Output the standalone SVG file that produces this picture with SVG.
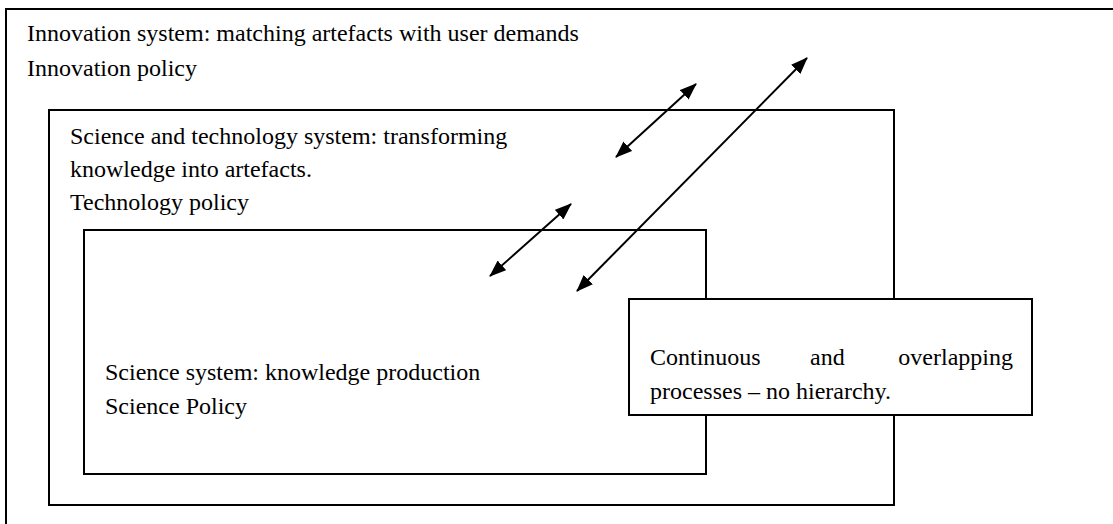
<svg xmlns="http://www.w3.org/2000/svg" width="1113" height="524" viewBox="0 0 1113 524">
<style>
  .box { fill: none; stroke: #000; stroke-width: 2; }
  .callout { fill: #fff; stroke: #000; stroke-width: 2; }
  .t { font-family: "Liberation Serif", "Times New Roman", serif; font-size: 24px; fill: #000; }
  .arr { stroke: #000; stroke-width: 2; fill: none; marker-start: url(#ah); marker-end: url(#ah); }
</style>
<defs>
  <marker id="ah" viewBox="0 0 17 13" refX="16" refY="6.5" markerWidth="17" markerHeight="13" markerUnits="userSpaceOnUse" orient="auto-start-reverse">
    <path d="M0,0 L17,6.5 L0,13 z" fill="#000"/>
  </marker>
</defs>
<rect width="1113" height="524" fill="#fff"/>
<g id="innovation-system">
  <rect class="box" x="6" y="9" width="1130" height="540"/>
  <text class="t" x="27" y="41">Innovation system: matching artefacts with user demands</text>
  <text class="t" x="27" y="76">Innovation policy</text>
</g>
<g id="st-system">
  <rect class="box" x="49" y="110" width="845" height="395"/>
  <text class="t" x="70" y="144">Science and technology system: transforming</text>
  <text class="t" x="70" y="177">knowledge into artefacts.</text>
  <text class="t" x="70" y="210">Technology policy</text>
</g>
<g id="science-system">
  <rect class="box" x="84" y="230" width="622" height="244"/>
  <text class="t" x="105" y="380">Science system: knowledge production</text>
  <text class="t" x="105" y="414">Science Policy</text>
</g>
<g id="connectors">
  <line class="arr" x1="616" y1="157" x2="696" y2="84"/>
  <line class="arr" x1="577" y1="291" x2="807" y2="58"/>
  <line class="arr" x1="490" y1="276" x2="571" y2="204"/>
</g>
<g id="note">
  <rect class="callout" x="629" y="299" width="403" height="116"/>
  <text class="t" x="650" y="365">Continuous</text>
  <text class="t" x="810" y="365">and</text>
  <text class="t" x="1013" y="365" text-anchor="end">overlapping</text>
  <text class="t" x="650" y="399">processes – no hierarchy.</text>
</g>
</svg>
